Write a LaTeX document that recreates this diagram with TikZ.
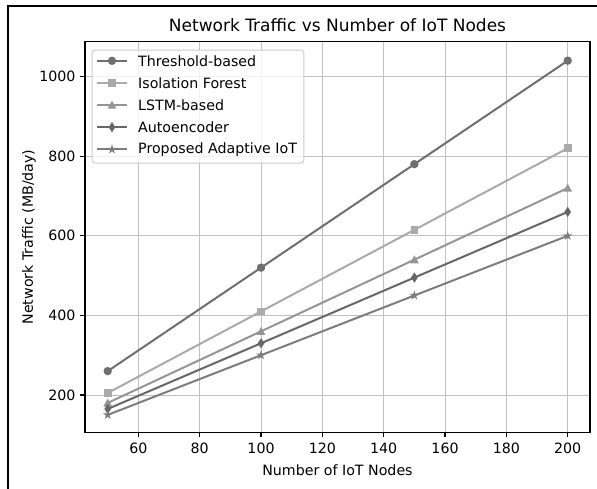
\documentclass[tikz,border=0pt]{standalone}
\usepackage{fontspec}
\setmainfont{DejaVu Sans}
\definecolor{cthr}{HTML}{6F6F6F}
\definecolor{ciso}{HTML}{AAAAAA}
\definecolor{clstm}{HTML}{959595}
\definecolor{cauto}{HTML}{676767}
\definecolor{cprop}{HTML}{7D7D7D}
\definecolor{gridc}{HTML}{C0C0C0}
\definecolor{legc}{HTML}{CCCCCC}
% data coordinates -> canvas (1 unit = 1pt, y pointing down)
\newcommand\dat[3]{\coordinate (#1) at ({107.7+(#2-50)*3.0667},{395-(#3-200)*0.398});}
\newlength\legw
\tikzset{
  mcirc/.pic={\path[pic actions] (0,0) circle (4.2pt);},
  msq/.pic={\path[pic actions] (-3.8pt,-3.8pt) rectangle (3.8pt,3.8pt);},
  mtri/.pic={\path[pic actions] (0pt,4.4pt) -- (-4.4pt,-3.6pt) -- (4.4pt,-3.6pt) -- cycle;},
  mdia/.pic={\path[pic actions] (0pt,5.2pt) -- (3.3pt,0pt) -- (0pt,-5.2pt) -- (-3.3pt,0pt) -- cycle;},
  mstar/.pic={\path[pic actions] (90:5pt) -- (126:1.9pt) -- (162:5pt) -- (198:1.9pt) -- (234:5pt)
      -- (270:1.9pt) -- (306:5pt) -- (342:1.9pt) -- (18:5pt) -- (54:1.9pt) -- cycle;},
  series/.style={line width=2pt, line join=round},
  gridline/.style={draw=gridc, line width=0.9pt},
  ticklbl/.style={inner sep=0pt, font=\fontsize{14.2}{17}\selectfont},
  leglbl/.style={inner sep=0pt, anchor=west, font=\fontsize{14.2}{17}\selectfont},
}
\begin{document}
\settowidth\legw{\fontsize{14.2}{17}\selectfont Proposed Adaptive IoT}
\begin{tikzpicture}[x=1pt,y=-1pt]
\useasboundingbox (0,0) rectangle (597,488);
\fill[white] (0,0) rectangle (597,488);
% outer figure frame (right and bottom edges fall outside the page)
\draw[line width=2pt] (8,492) -- (8,6) -- (601,6);

% grid
\foreach \xv in {60,80,...,200}
  \draw[gridline] ({107.7+(\xv-50)*3.0667},41.7) -- ({107.7+(\xv-50)*3.0667},432.7);
\foreach \yv in {200,400,...,1000}
  \draw[gridline] (85,{395-(\yv-200)*0.398}) -- (590,{395-(\yv-200)*0.398});

% data points
\dat{t1}{50}{260}\dat{t2}{100}{520}\dat{t3}{150}{780}\dat{t4}{200}{1040}
\dat{i1}{50}{205}\dat{i2}{100}{410}\dat{i3}{150}{615}\dat{i4}{200}{820}
\dat{l1}{50}{180}\dat{l2}{100}{360}\dat{l3}{150}{540}\dat{l4}{200}{720}
\dat{a1}{50}{165}\dat{a2}{100}{330}\dat{a3}{150}{495}\dat{a4}{200}{660}
\dat{p1}{50}{150}\dat{p2}{100}{300}\dat{p3}{150}{450}\dat{p4}{200}{600}

% series
\draw[series, cthr] (t1) -- (t2) -- (t3) -- (t4);
\foreach \c in {t1,t2,t3,t4} \pic[fill=cthr] at (\c) {mcirc};
\draw[series, ciso] (i1) -- (i2) -- (i3) -- (i4);
\foreach \c in {i1,i2,i3,i4} \pic[fill=ciso] at (\c) {msq};
\draw[series, clstm] (l1) -- (l2) -- (l3) -- (l4);
\foreach \c in {l1,l2,l3,l4} \pic[fill=clstm] at (\c) {mtri};
\draw[series, cauto] (a1) -- (a2) -- (a3) -- (a4);
\foreach \c in {a1,a2,a3,a4} \pic[fill=cauto] at (\c) {mdia};
\draw[series, cprop] (p1) -- (p2) -- (p3) -- (p4);
\foreach \c in {p1,p2,p3,p4} \pic[fill=cprop] at (\c) {mstar};

% axes frame and ticks
\draw[line width=1.1pt] (85,41.7) rectangle (590,432.7);
\foreach \xv in {60,80,...,200} {
  \draw[line width=1.1pt] ({107.7+(\xv-50)*3.0667},432.7) -- ({107.7+(\xv-50)*3.0667},437.4);
  \node[ticklbl, anchor=north] (xt\xv) at ({107.7+(\xv-50)*3.0667},442.4) {\xv};
}
\foreach \yv in {200,400,...,1000} {
  \draw[line width=1.1pt] (85,{395-(\yv-200)*0.398}) -- (80.3,{395-(\yv-200)*0.398});
  \node[ticklbl, anchor=east] (yt\yv) at (75.6,{395-(\yv-200)*0.398}) {\yv};
}

% labels
\node[inner sep=0pt, font=\fontsize{17}{20}\selectfont] (title) at (337.5,25) {Network Traffic vs Number of IoT Nodes};
\node[ticklbl] (xlab) at (337.5,470) {Number of IoT Nodes};
\node[ticklbl, rotate=90] (ylab) at (29,237) {Network Traffic (MB/day)};

% legend
\draw[draw=legc, fill=white, fill opacity=0.8, rounded corners=3pt, line width=1pt]
  (92,50) rectangle ({145+\legw},163);
\foreach \k/\col/\mk/\txt [count=\n from 0] in {
    t/cthr/mcirc/Threshold-based,
    i/ciso/msq/Isolation Forest,
    l/clstm/mtri/LSTM-based,
    a/cauto/mdia/Autoencoder,
    p/cprop/mstar/Proposed Adaptive IoT} {
  \coordinate (lg\k a) at (97,{60.8+22.15*\n});
  \coordinate (lg\k b) at (127,{60.8+22.15*\n});
  \coordinate (lg\k m) at (112,{60.8+22.15*\n});
  \draw[series, \col] (lg\k a) -- (lg\k b);
  \pic[fill=\col] at (lg\k m) {\mk};
  \node[leglbl] (lg\k t) at (138,{60.8+22.15*\n}) {\txt};
}
\end{tikzpicture}
\end{document}
